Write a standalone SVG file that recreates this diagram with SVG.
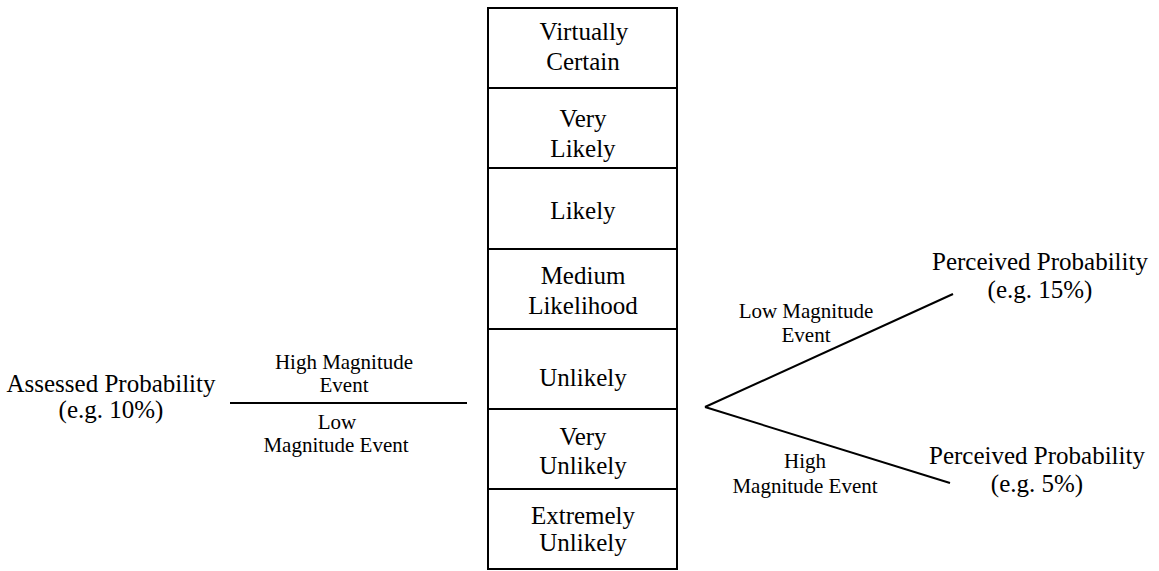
<svg xmlns="http://www.w3.org/2000/svg" width="1159" height="571" viewBox="0 0 1159 571">
<style>
text{font-family:"Liberation Serif","Times New Roman",serif;fill:#000;text-anchor:middle}
.b{font-size:25px}
.s{font-size:21px}
.ln{stroke:#000;stroke-width:2;fill:none}
</style>
<rect width="1159" height="571" fill="#fff"/>
<g id="scale">
<rect class="ln" x="488" y="8" width="189" height="561"/>
<line class="ln" x1="488" y1="88" x2="677" y2="88"/>
<line class="ln" x1="488" y1="168" x2="677" y2="168"/>
<line class="ln" x1="488" y1="249" x2="677" y2="249"/>
<line class="ln" x1="488" y1="329" x2="677" y2="329"/>
<line class="ln" x1="488" y1="409" x2="677" y2="409"/>
<line class="ln" x1="488" y1="489" x2="677" y2="489"/>
</g>
<g id="virtually-certain"><text class="b" x="584" y="40">Virtually</text><text class="b" x="583" y="70">Certain</text></g>
<g id="very-likely"><text class="b" x="583" y="127">Very</text><text class="b" x="583" y="157">Likely</text></g>
<g id="likely"><text class="b" x="583" y="219">Likely</text></g>
<g id="medium"><text class="b" x="583" y="284">Medium</text><text class="b" x="583" y="314">Likelihood</text></g>
<g id="unlikely"><text class="b" x="583" y="386">Unlikely</text></g>
<g id="very-unlikely"><text class="b" x="583" y="445">Very</text><text class="b" x="583" y="474">Unlikely</text></g>
<g id="extremely-unlikely"><text class="b" x="583" y="524">Extremely</text><text class="b" x="583" y="551">Unlikely</text></g>
<g id="assessed"><text class="b" x="111" y="392">Assessed Probability</text><text class="b" x="111" y="418">(e.g. 10%)</text></g>
<g id="perceived-high"><text class="b" x="1040" y="270">Perceived Probability</text><text class="b" x="1040" y="298">(e.g. 15%)</text></g>
<g id="perceived-low"><text class="b" x="1037" y="464">Perceived Probability</text><text class="b" x="1037" y="492">(e.g. 5%)</text></g>
<g id="connectors">
<line class="ln" x1="230" y1="403" x2="467" y2="403"/>
<line class="ln" x1="705" y1="407" x2="953" y2="294"/>
<line class="ln" x1="705" y1="407" x2="950" y2="483"/>
</g>
<g id="labels">
<text class="s" x="344" y="369">High Magnitude</text><text class="s" x="344" y="392">Event</text>
<text class="s" x="337" y="429">Low</text><text class="s" x="336" y="452">Magnitude Event</text>
<text class="s" x="806" y="318">Low Magnitude</text><text class="s" x="806" y="342">Event</text>
<text class="s" x="805" y="468">High</text><text class="s" x="805" y="493">Magnitude Event</text>
</g>
</svg>
